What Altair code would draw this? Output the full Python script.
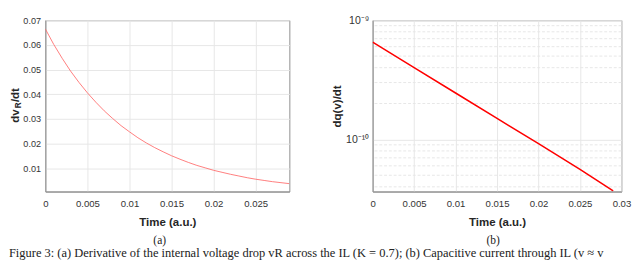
import altair as alt
import pandas as pd

# ---------------- data ----------------
t_a = [0.000, 0.001, 0.002, 0.003, 0.004, 0.005, 0.006, 0.007, 0.008, 0.009,
       0.010, 0.011, 0.012, 0.013, 0.014, 0.015, 0.016, 0.017, 0.018, 0.019,
       0.020, 0.021, 0.022, 0.023, 0.024, 0.025, 0.026, 0.027, 0.028, 0.029]
dv_a = [0.0665, 0.0602, 0.0546, 0.0494, 0.0448, 0.0406, 0.0368, 0.0333, 0.0302, 0.0273,
        0.0248, 0.0224, 0.0203, 0.0184, 0.0167, 0.0151, 0.0137, 0.0124, 0.0112, 0.0102,
        0.0092, 0.0084, 0.0076, 0.0069, 0.0062, 0.0056, 0.0051, 0.0046, 0.0042, 0.0038]

t_b = [0.000, 0.005, 0.010, 0.015, 0.020, 0.025, 0.029]
dq_b = [6.55e-10, 4.0e-10, 2.45e-10, 1.5e-10, 9.2e-11, 5.6e-11, 3.7e-11]

x_ticks_a = [0, 0.005, 0.01, 0.015, 0.02, 0.025]
x_ticks_b = [0, 0.005, 0.01, 0.015, 0.02, 0.025, 0.03]
y_ticks_a = [0.01, 0.02, 0.03, 0.04, 0.05, 0.06, 0.07]
y_major_b = [1e-10, 1e-9]
y_minor_b = [4e-11, 5e-11, 6e-11, 7e-11, 8e-11, 9e-11,
             2e-10, 3e-10, 4e-10, 5e-10, 6e-10, 7e-10, 8e-10, 9e-10]

x_title = "Time (a.u.)"
y_title_b = "dq(v)/dt"
sub_a = "(a)"
sub_b = "(b)"
caption = ("Figure 3: (a) Derivative of the internal voltage drop vR across the IL "
           "(K = 0.7); (b) Capacitive current through IL (v \u2248 v")

# ---------------- style ----------------
W_A, W_B, H = 255, 260, 179
FONT = "Liberation Sans"
SERIF = "Liberation Serif"
TXT = "#262626"

axis_common = dict(
    labelFont=FONT, labelColor="#333333",
    titleFont=FONT, titleFontSize=12, titleFontWeight="bold", titleColor=TXT,
    domainColor="#8c8c8c", gridColor="#e6e6e6", ticks=False,
)


def rot_text(s, x, y, size):
    return alt.Chart(pd.DataFrame({"s": [s]})).mark_text(
        angle=270, align="left", baseline="alphabetic", font=FONT,
        fontSize=size, fontWeight="bold", color=TXT
    ).encode(text="s:N", x=alt.value(x), y=alt.value(y))


def plain_text(s, x, y, size):
    return alt.Chart(pd.DataFrame({"s": [s]})).mark_text(
        align="center", baseline="middle", font=SERIF, fontSize=size, color="#222222"
    ).encode(text="s:N", x=alt.value(x), y=alt.value(y))


xaxis_a = alt.Axis(values=x_ticks_a, format="~g", title=x_title, labelFontSize=10,
                   labelFlush=False, labelOverlap=False,
                   labelPadding=8, titlePadding=8, **axis_common)
xaxis_b = alt.Axis(values=x_ticks_b, format="~g", title=x_title, labelFontSize=10,
                   labelFlush=False, labelOverlap=False,
                   labelPadding=8, titlePadding=8, **axis_common)

# ---------------- panel (a) ----------------
df_a = pd.DataFrame({"t": t_a, "v": dv_a})
line_a = alt.Chart(df_a).mark_line(color="#ff6b6b", strokeWidth=0.9, clip=True).encode(
    x=alt.X("t:Q", scale=alt.Scale(domain=[0, 0.029], nice=False, zero=False), axis=xaxis_a),
    y=alt.Y("v:Q", scale=alt.Scale(domain=[0.0006, 0.07], nice=False, zero=False),
            axis=alt.Axis(values=y_ticks_a, format="~g", title=None, labelFontSize=9.5,
                          labelPadding=5, **axis_common)),
)
panel_a = alt.layer(
    line_a,
    rot_text("dv", -28, 107, 12),
    rot_text("R", -25, 92, 8.5),
    rot_text("/dt", -28, 85.5, 12),
    plain_text(sub_a, W_A / 2 - 8, H + 51, 12),
).properties(width=W_A, height=H)

# ---------------- panel (b) ----------------
yscale_b = alt.Scale(type="log", domain=[3.65e-11, 1e-9], nice=False)
yaxis_b = alt.Axis(values=y_major_b, title=y_title_b, labelFontSize=11,
                   labelExpr="datum.value > 5e-10 ? '10\u207b\u2079' : '10\u207b\u00b9\u2070'",
                   labelPadding=4, titlePadding=3, **axis_common)
xscale_b = alt.Scale(domain=[0, 0.03], nice=False, zero=False)
df_b = pd.DataFrame({"t": t_b, "q": dq_b})
df_minor = pd.DataFrame({"m": y_minor_b})
minor = alt.Chart(df_minor).mark_rule(color="#e6e6e6", strokeDash=[3, 2], strokeWidth=1).encode(
    y=alt.Y("m:Q", scale=yscale_b, axis=yaxis_b)
)
line_b = alt.Chart(df_b).mark_line(color="#ff0000", strokeWidth=1.6, clip=True).encode(
    x=alt.X("t:Q", scale=xscale_b, axis=xaxis_b),
    y=alt.Y("q:Q", scale=yscale_b, axis=yaxis_b),
)
panel_b = alt.layer(
    minor, line_b,
    plain_text(sub_b, W_B / 2 - 4, H + 51, 12),
).properties(width=W_B, height=H)

# ---------------- caption ----------------
cap = alt.Chart(pd.DataFrame({"s": [caption]})).mark_text(
    align="left", baseline="top", font=SERIF, fontSize=13, color="#222222"
).encode(text="s:N", x=alt.value(-38), y=alt.value(0)).properties(
    width=560, height=8, view=alt.ViewBackground(stroke="transparent"))

chart = alt.vconcat(
    alt.hconcat(panel_a, panel_b, spacing=41),
    cap, spacing=-3,
).properties(padding=0).configure_view(stroke="#8c8c8c", strokeWidth=1)

chart.save("out.html", embed_options={"renderer": "svg", "actions": False})
